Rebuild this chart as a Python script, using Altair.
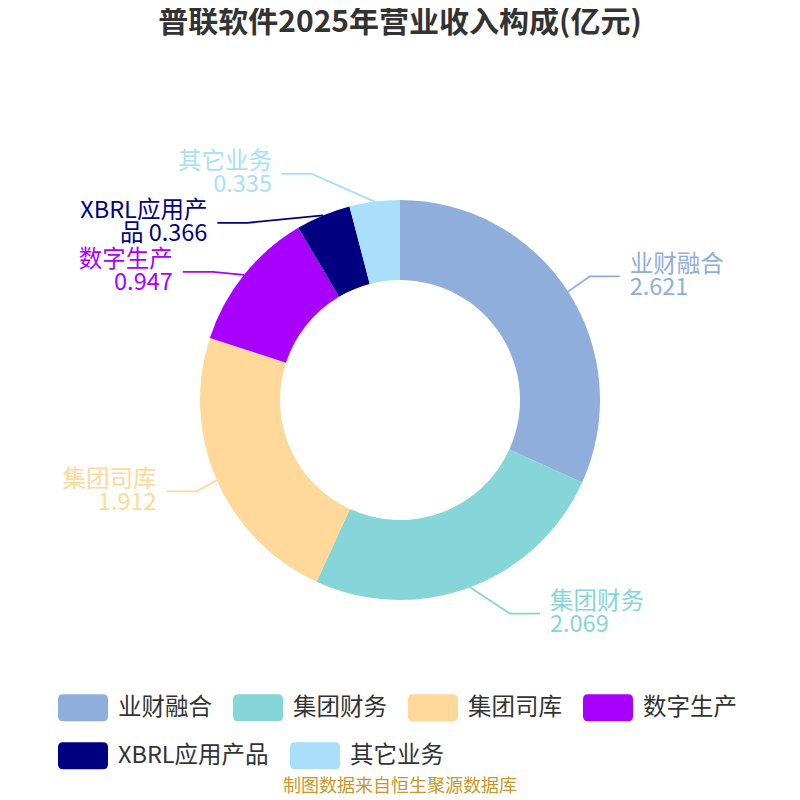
import math
import altair as alt
import pandas as pd

# ---------------- data ----------------
CATEGORIES = ["业财融合", "集团财务", "集团司库", "数字生产", "XBRL应用产品", "其它业务"]
VALUES = [2.621, 2.069, 1.912, 0.947, 0.366, 0.335]
COLORS = ["#8FAEDC", "#86D5D8", "#FFD89A", "#A800FF", "#000080", "#A9DFF9"]
LABEL_LINES = [
    ["业财融合", "2.621"],
    ["集团财务", "2.069"],
    ["集团司库", "1.912"],
    ["数字生产", "0.947"],
    ["XBRL应用产", "品 0.366"],
    ["其它业务", "0.335"],
]
LEGEND_ROW1 = CATEGORIES[:4]
LEGEND_ROW2 = CATEGORIES[4:]
TITLE = "普联软件2025年营业收入构成(亿元)"
SOURCE = "制图数据来自恒生聚源数据库"

# ---------------- layout constants ----------------
FONT = "Noto Sans CJK SC"
W = H = 784
CX, CY = W / 2, H / 2
R_OUT, R_IN = 200, 120
R_LABEL = 228            # radial distance used for the label anchor height
ELL_A, ELL_B = 219, 247  # ellipse on which the leader-line elbows sit
LEN2 = 30                # horizontal leader segment
TEXT_GAP = 10
MIN_GAP = 49             # min vertical distance between label anchors
LINE_H = 23

# ---------------- derived tables ----------------
total = sum(VALUES)
slices = pd.DataFrame({"category": CATEGORIES, "value": VALUES, "idx": range(len(VALUES))})

items = []
cum = 0.0
for i, (c, v) in enumerate(zip(CATEGORIES, VALUES)):
    th = 2 * math.pi * (cum + v / 2) / total
    cum += v
    items.append({
        "i": i, "category": c, "th": th,
        "x0": CX + R_OUT * math.sin(th), "y0": CY - R_OUT * math.cos(th),
        "ly": CY - R_LABEL * math.cos(th),
        "side": "right" if math.sin(th) >= 0 else "left",
    })

# simple overlap avoidance per side (push down)
for side in ("left", "right"):
    group = sorted([it for it in items if it["side"] == side], key=lambda d: d["ly"])
    for k in range(1, len(group)):
        group[k]["ly"] = max(group[k]["ly"], group[k - 1]["ly"] + MIN_GAP)

line_rows, label_rows = [], []
for it in items:
    d = 1 if it["side"] == "right" else -1
    dy = it["ly"] - CY
    dx = ELL_A * math.sqrt(max(0.0, 1 - (dy / ELL_B) ** 2))
    ex = CX + d * dx
    endx = ex + d * LEN2
    line_rows += [
        {"category": it["category"], "pt": 0, "x": it["x0"], "y": it["y0"]},
        {"category": it["category"], "pt": 1, "x": ex, "y": it["ly"]},
        {"category": it["category"], "pt": 2, "x": endx, "y": it["ly"]},
    ]
    label_rows.append({
        "category": it["category"], "side": it["side"],
        "x": endx + d * TEXT_GAP, "y": it["ly"],
        "text": "\n".join(LABEL_LINES[it["i"]]),
    })
lines_df = pd.DataFrame(line_rows)
labels_df = pd.DataFrame(label_rows)

color_scale = alt.Scale(domain=CATEGORIES, range=COLORS)
# same mapping, listed in reverse so the second legend row is kept separate
color_scale_rev = alt.Scale(domain=CATEGORIES[::-1], range=COLORS[::-1])

ROUNDED = ("M-0.8,-0.54 L0.8,-0.54 Q1,-0.54 1,-0.34 L1,0.34 Q1,0.54 0.8,0.54 "
           "L-0.8,0.54 Q-1,0.54 -1,0.34 L-1,-0.34 Q-1,-0.54 -0.8,-0.54 Z")


def legend_row(values, y):
    return alt.Legend(
        orient="none", legendX=50, legendY=y, direction="horizontal",
        values=values, symbolType=ROUNDED, symbolSize=2500,
        symbolStrokeWidth=0, symbolOpacity=1, labelFontSize=23.5, labelFont=FONT,
        labelColor="#333333", labelOffset=10, columnPadding=21,
        padding=0, title=None, labelLimit=400,
    )


arcs = alt.Chart(slices).mark_arc(innerRadius=R_IN, outerRadius=R_OUT).encode(
    theta=alt.Theta("value:Q", stack=True),
    fill=alt.Fill("category:N", scale=color_scale, legend=legend_row(LEGEND_ROW1, 674.5)),
    order=alt.Order("idx:Q"),
)

leaders = alt.Chart(lines_df).mark_line(strokeWidth=1.8).encode(
    x=alt.X("x:Q", scale=None, axis=None),
    y=alt.Y("y:Q", scale=None, axis=None),
    stroke=alt.Stroke("category:N", scale=color_scale, legend=None),
    detail="category:N",
    order="pt:Q",
)


def side_text(side, align):
    return alt.Chart(labels_df).transform_filter(f"datum.side == '{side}'").mark_text(
        align=align, baseline="middle", fontSize=23.5, lineHeight=LINE_H, font=FONT,
        lineBreak="\n", dy=-LINE_H / 2,
    ).encode(
        x=alt.X("x:Q", scale=None, axis=None),
        y=alt.Y("y:Q", scale=None, axis=None),
        text="text:N",
        color=alt.Color("category:N", scale=color_scale_rev, legend=legend_row(LEGEND_ROW2, 722.5)),
    )


title = alt.Chart(pd.DataFrame({"t": [TITLE]})).mark_text(
    fontSize=30, fontWeight="bold", color="#333333", font=FONT, baseline="middle", align="center",
).encode(x=alt.value(CX), y=alt.value(15), text="t:N")

footer = alt.Chart(pd.DataFrame({"t": [SOURCE]})).mark_text(
    fontSize=18, color="#C9962B", font=FONT, baseline="middle", align="center",
).encode(x=alt.value(CX), y=alt.value(779), text="t:N")

chart = alt.layer(
    arcs, leaders, side_text("right", "left"), side_text("left", "right"), title, footer
).properties(
    width=W, height=H,
    autosize=alt.AutoSizeParams(type="none"),
    padding={"left": 0, "top": 0, "right": 0, "bottom": 8},
).configure_view(stroke=None)

chart.save("out.html", embed_options={"renderer": "svg", "actions": False})
